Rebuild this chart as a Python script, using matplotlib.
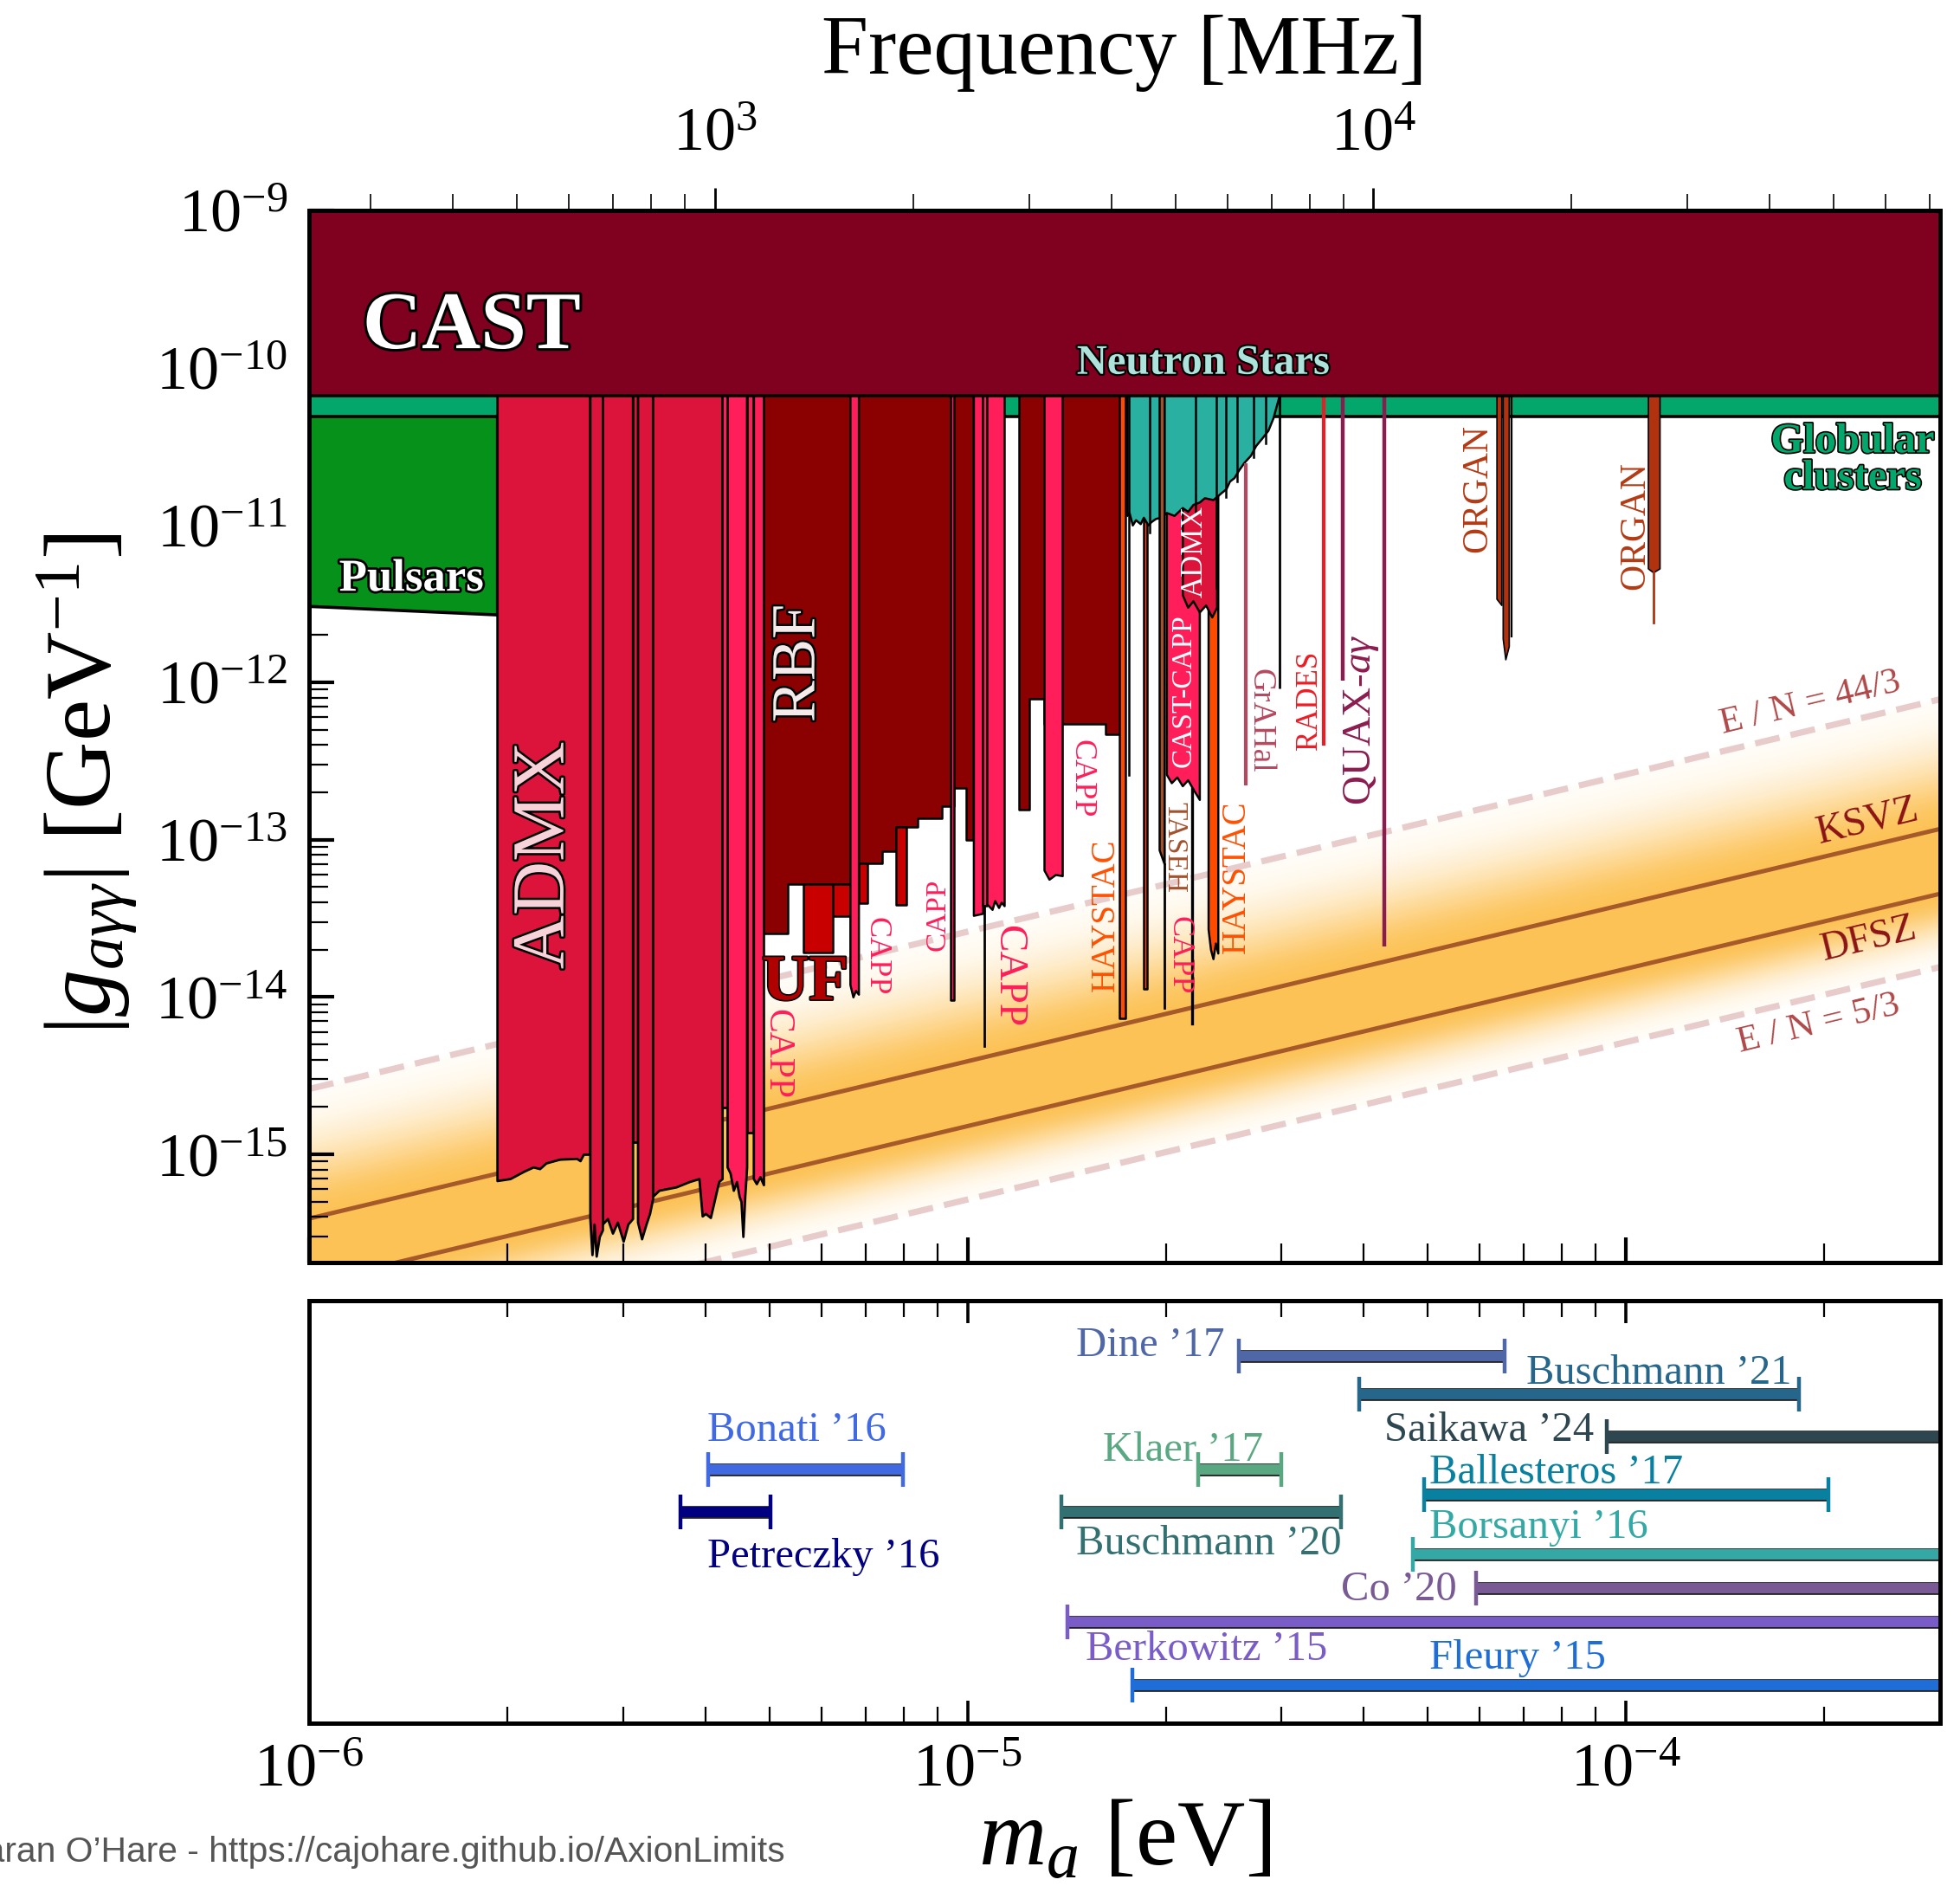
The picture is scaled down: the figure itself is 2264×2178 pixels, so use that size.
import numpy as np
import matplotlib
matplotlib.use("Agg")
import matplotlib.pyplot as plt
import matplotlib.patheffects as pe
from matplotlib.ticker import LogLocator, NullFormatter, FixedLocator

plt.rcParams['font.family'] = ['Liberation Serif', 'DejaVu Serif']
plt.rcParams['mathtext.fontset'] = 'custom'
plt.rcParams['mathtext.rm'] = 'Liberation Serif'
plt.rcParams['mathtext.it'] = 'Liberation Serif:italic'
plt.rcParams['mathtext.bf'] = 'Liberation Serif:bold'

# ---------------- data (m in eV, g in GeV^-1) ----------------
M_MIN, M_MAX = 1e-6, 3e-4
G_MIN, G_MAX = 2.05e-16, 1e-9
G_TOP = 1e-9

cast_g = 6.6e-11
gc_g = 4.9e-11
pulsar_m = [1e-6, 1.93e-6]
pulsar_g = [3.06e-12, 2.7e-12]

# QCD axion model lines (two end points each)
ksvz_m, ksvz_g = [1e-6, 3e-4], [3.9e-16, 1.17e-13]
dfsz_m, dfsz_g = [1e-6, 3e-4], [1.51e-16, 4.53e-14]
en44_m, en44_g = [1e-6, 3e-4], [2.6e-15, 7.8e-13]
en53_m, en53_g = [1e-6, 3e-4], [5.15e-17, 1.55e-14]

# ADMX (low mass)
admx1_m = [1.93e-6, 2.02e-6, 2.12e-6, 2.19e-6, 2.24e-6, 2.29e-6, 2.40e-6, 2.55e-6, 2.58e-6, 2.61e-6, 2.67e-6]
admx1_g = [6.8e-16, 7.0e-16, 7.8e-16, 8.3e-16, 8.1e-16, 8.8e-16, 9.3e-16, 9.4e-16, 9.1e-16, 1.0e-15, 1.0e-15]
admx2_m = [2.67e-6, 2.69e-6, 2.71e-6, 2.73e-6, 2.76e-6, 2.79e-6]
admx2_g = [3.9e-16, 2.3e-16, 3.6e-16, 2.25e-16, 3.0e-16, 3.3e-16]
admx3_m = [2.79e-6, 2.84e-6, 2.89e-6, 2.94e-6, 3.00e-6, 3.05e-6, 3.10e-6]
admx3_g = [3.6e-16, 3.9e-16, 3.15e-16, 3.7e-16, 2.8e-16, 3.6e-16, 3.9e-16]
admx4_m = [3.10e-6, 3.155e-6]
admx4_g = [1.19e-15, 1.19e-15]
admx5_m = [3.155e-6, 3.20e-6, 3.25e-6, 3.29e-6, 3.325e-6]
admx5_g = [3.7e-16, 2.9e-16, 3.6e-16, 4.2e-16, 5.2e-16]
admx6_m = [3.325e-6, 3.40e-6, 3.61e-6, 3.78e-6, 3.91e-6, 3.955e-6, 4.0e-6, 4.07e-6, 4.14e-6, 4.19e-6, 4.24e-6]
admx6_g = [5.4e-16, 5.9e-16, 6.2e-16, 6.7e-16, 7.0e-16, 4.05e-16, 4.2e-16, 3.96e-16, 5.4e-16, 6.7e-16, 7.0e-16]

# CAPP strips
cappa_m, cappa_g = [4.24e-6, 4.315e-6], [1.97e-15, 1.97e-15]
cappb_m = [4.315e-6, 4.36e-6, 4.41e-6, 4.46e-6, 4.50e-6, 4.53e-6, 4.56e-6, 4.59e-6, 4.62e-6]
cappb_g = [8.3e-16, 7.6e-16, 5.9e-16, 6.7e-16, 5.4e-16, 5.0e-16, 3.0e-16, 5.4e-16, 8.3e-16]
cappc_m, cappc_g = [4.62e-6, 4.73e-6], [1.37e-15, 1.37e-15]
cappd_m, cappd_g = [4.73e-6, 4.78e-6, 4.84e-6, 4.90e-6], [7.0e-16, 6.5e-16, 7.2e-16, 6.4e-16]
cappe_m, cappe_g = [6.63e-6, 6.70e-6, 6.76e-6, 6.83e-6], [1.2e-14, 1.0e-14, 1.1e-14, 1.04e-14]
cappf_m, cappf_g = [9.43e-6, 9.53e-6], [9.6e-15, 9.6e-15]
cappg_m, cappg_g = [1.021e-5, 1.055e-5], [3.3e-14, 3.4e-14]
capph_m, capph_g = [1.055e-5, 1.07e-5], [3.8e-14, 3.8e-14]
cappi_m = [1.07e-5, 1.09e-5, 1.10e-5, 1.115e-5, 1.125e-5, 1.137e-5]
cappi_g = [3.9e-14, 3.6e-14, 4.1e-14, 3.7e-14, 4.0e-14, 3.8e-14]
cappj_m = [1.307e-5, 1.33e-5, 1.36e-5, 1.393e-5]
cappj_g = [6.4e-14, 5.6e-14, 6.0e-14, 5.9e-14]
capp_spike_m, capp_spike_g = 1.062e-5, 4.9e-15

# RBF (stepped)
rbf1_edges = [4.90e-6, 5.34e-6, 6.63e-6, 7.43e-6, 7.80e-6, 8.39e-6, 9.15e-6, 9.53e-6, 9.95e-6, 1.021e-5]
rbf1_bot = [2.54e-14, 5.24e-14, 7.03e-14, 8.39e-14, 1.20e-13, 1.37e-13, 1.63e-13, 2.13e-13, 1.0e-13]
rbf2_edges = [1.198e-5, 1.241e-5, 1.307e-5, 1.393e-5, 1.618e-5, 1.705e-5]
rbf2_bot = [1.56e-13, 7.86e-13, 5.41e-13, 5.41e-13, 4.65e-13]

# UF rectangles: m0, m1, g_top, g_bottom
uf_m0 = [5.63e-6, 6.24e-6, 6.83e-6, 7.80e-6]
uf_m1 = [6.24e-6, 6.63e-6, 7.05e-6, 8.07e-6]
uf_gt = [5.24e-14, 5.24e-14, 7.03e-14, 1.20e-13]
uf_gb = [1.91e-14, 3.25e-14, 3.94e-14, 3.84e-14]

# HAYSTAC / TASEH / CAST-CAPP / ADMX (high mass)
hay1_m, hay1_g = [1.703e-5, 1.736e-5], [7.3e-15, 7.3e-15]
hay2_m, hay2_g = [1.85e-5, 1.873e-5], [1.13e-14, 1.13e-14]
hay3_m = [2.32e-5, 2.34e-5, 2.36e-5, 2.38e-5, 2.40e-5]
hay3_g = [2.7e-14, 2.0e-14, 1.75e-14, 2.2e-14, 1.9e-14]
taseh_m, taseh_g = [1.955e-5, 1.99e-5], [8.6e-14, 7.0e-14]
taseh_spike_m, taseh_spike_g = 1.99e-5, 8.5e-15
castcapp_m = [2.005e-5, 2.04e-5, 2.08e-5, 2.12e-5, 2.16e-5, 2.20e-5, 2.25e-5]
castcapp_g = [2.6e-13, 2.3e-13, 2.5e-13, 2.2e-13, 2.4e-13, 2.1e-13, 1.8e-13]
castcapp_spike_m, castcapp_spike_g = 2.196e-5, 6.8e-15
admxh_m = [2.12e-5, 2.16e-5, 2.20e-5, 2.25e-5, 2.30e-5, 2.35e-5, 2.39e-5]
admxh_g = [3.6e-12, 3.0e-12, 3.3e-12, 2.8e-12, 3.1e-12, 2.6e-12, 3.0e-12]

# Neutron stars (radio) lower edge
ns_m = [1.747e-5, 1.76e-5, 1.78e-5, 1.80e-5, 1.83e-5, 1.85e-5, 1.88e-5, 1.90e-5, 1.93e-5, 1.965e-5,
        2.005e-5, 2.06e-5, 2.12e-5, 2.16e-5, 2.20e-5, 2.25e-5, 2.29e-5, 2.36e-5, 2.43e-5, 2.47e-5,
        2.50e-5, 2.54e-5, 2.58e-5, 2.63e-5, 2.69e-5, 2.74e-5, 2.80e-5, 2.86e-5, 2.91e-5, 2.97e-5]
ns_g = [1.15e-11, 1.2e-11, 1.0e-11, 1.08e-11, 1.02e-11, 1.12e-11, 1.0e-11, 1.05e-11, 1.1e-11, 1.12e-11,
        1.2e-11, 1.15e-11, 1.29e-11, 1.22e-11, 1.35e-11, 1.4e-11, 1.49e-11, 1.45e-11, 1.61e-11, 1.7e-11,
        1.9e-11, 2.0e-11, 2.23e-11, 2.5e-11, 2.77e-11, 3.2e-11, 3.57e-11, 4.0e-11, 4.78e-11, 6.5e-11]
# black spikes inside the neutron star region: mass, g_bottom
ns_spike_m = [1.758e-5, 1.89e-5, 2.22e-5, 2.39e-5, 2.47e-5, 2.57e-5, 2.72e-5, 2.84e-5]
ns_spike_g = [2.56e-13, 9.0e-12, 1.2e-11, 4.0e-12, 1.5e-11, 1.9e-11, 2.7e-11, 3.3e-11]

# narrow line limits: mass, g_top, g_bottom
grahal = (2.65e-5, 2.48e-11, 2.22e-13)
blackline = (2.98e-5, G_TOP, 9.1e-13)
rades = (3.48e-5, G_TOP, 3.96e-13)
quax = (3.71e-5, G_TOP, 1.02e-12)
quax_ag = (4.30e-5, G_TOP, 2.1e-14)

# ORGAN
organ1a_m, organ1a_g = [6.36e-5, 6.47e-5], [3.4e-12, 3.1e-12]
organ1b_m, organ1b_g = [6.50e-5, 6.56e-5, 6.64e-5], [1.9e-12, 1.4e-12, 1.7e-12]
organ1c = (6.71e-5, G_TOP, 1.96e-12)
organ2_m, organ2_g = [1.08e-4, 1.10e-4, 1.125e-4], [5.3e-12, 5.0e-12, 5.3e-12]
organ2_line = (1.10e-4, 5.0e-12, 2.4e-12)

# Cosmology predictions (lower panel)
cosmo_names = ["Dine \u201917", "Buschmann \u201921", "Saikawa \u201924", "Bonati \u201916",
               "Klaer \u201917", "Ballesteros \u201917", "Petreczky \u201916", "Buschmann \u201920",
               "Borsanyi \u201916", "Co \u201920", "Berkowitz \u201915", "Fleury \u201915"]
cosmo_lo = [2.58e-5, 3.94e-5, 9.35e-5, 4.04e-6, 2.24e-5, 4.93e-5, 3.67e-6, 1.39e-5, 4.75e-5, 5.92e-5, 1.42e-5, 1.78e-5]
cosmo_hi = [6.55e-5, 1.83e-4, 1e-3, 7.98e-6, 3.0e-5, 2.03e-4, 5.02e-6, 3.69e-5, 1e-3, 1e-3, 1e-3, 1e-3]
cosmo_cols = ["#4f67a6", "#26668a", "#2e4650", "#4169e1", "#5aa882", "#0a80a0",
              "#000080", "#327072", "#33a8a4", "#7a5a94", "#7a5cc8", "#1f6ed8"]
# layout of the lower panel
cosmo_row = [0.869, 0.779, 0.678, 0.600, 0.600, 0.540, 0.500, 0.500, 0.400, 0.319, 0.239, 0.090]
cosmo_lab = [(2.46e-5, 0.869, 'right'), (7.06e-5, 0.803, 'left'), (8.93e-5, 0.668, 'right'),
             (4.02e-6, 0.668, 'left'), (1.605e-5, 0.621, 'left'), (5.03e-5, 0.568, 'left'),
             (4.02e-6, 0.369, 'left'), (1.46e-5, 0.400, 'left'), (5.03e-5, 0.439, 'left'),
             (5.54e-5, 0.291, 'right'), (1.51e-5, 0.150, 'left'), (5.03e-5, 0.129, 'left')]

# frequency axis ticks [MHz]
freq_major = [1e3, 1e4]
freq_minor = [300, 400, 500, 600, 700, 800, 900, 2000, 3000, 4000, 5000, 6000, 7000, 8000, 9000,
              20000, 30000, 40000, 50000, 60000, 70000]

# ---------------- colours ----------------
C_CAST = "#800020"; C_GC = "#03a66b"; C_PUL = "#06921a"
C_ADMX = "#dc143c"; C_CAPP = "#ff1e5a"; C_RBF = "#8b0000"; C_UF = "#c80000"
C_HAY = "#ff4b00"; C_TASEH = "#a0522d"; C_NS = "#2ab0a0"; C_ORGAN = "#b0320e"
C_BAND = np.array([252, 194, 86]) / 255.0

# ---------------- figure ----------------
fig = plt.figure(figsize=(11.32, 10.89), dpi=200)
ax = fig.add_axes([357/2264, 1-1458/2178, 1884/2264, 1215/2178])
ax2 = fig.add_axes([357/2264, 1-1990/2178, 1884/2264, 488/2178])

ax.set_xscale('log'); ax.set_yscale('log')
ax.set_xlim(M_MIN, M_MAX); ax.set_ylim(G_MIN, G_MAX)

def stroke(w=2.0, c='k'):
    return [pe.withStroke(linewidth=w, foreground=c)]

def region(m, g, color, z, lw=0.9):
    ax.fill_between(m, g, G_TOP, facecolor=color, edgecolor='k', linewidth=lw, zorder=z)

def step_xy(edges, bottoms):
    e = np.asarray(edges); b = np.asarray(bottoms)
    return np.repeat(e, 2)[1:-1], np.repeat(b, 2)

# QCD band gradient
lm = np.array(ksvz_m)
rK = ksvz_g[0] / ksvz_m[0]; rD = dfsz_g[0] / dfsz_m[0]
rH = en44_g[0] / en44_m[0]; rL = en53_g[0] / en53_m[0]
def band_col(I):
    return tuple(1 - I * (1 - C_BAND))
ax.fill_between(lm, rD * lm, rK * lm, facecolor=band_col(1.0), edgecolor=band_col(1.0), lw=0.5, zorder=0.5)
N = 60
for lo_r, hi_r in [(rK, rH), (rD, rL)]:
    a0, a1 = np.log10(lo_r), np.log10(hi_r)
    for i in range(N):
        s0, s1 = i / N, (i + 1) / N
        sm = 0.5 * (s0 + s1)
        I = np.exp(-(sm / 0.55) ** 2)
        t0 = 10 ** (a0 + s0 * (a1 - a0)); t1 = 10 ** (a0 + s1 * (a1 - a0))
        c = band_col(I)
        ax.fill_between(lm, t0 * lm, t1 * lm, facecolor=c, edgecolor=c, lw=0.5, zorder=0.5)

ax.plot(ksvz_m, ksvz_g, color="#a65a2a", lw=1.8, zorder=1)
ax.plot(dfsz_m, dfsz_g, color="#a65a2a", lw=1.8, zorder=1)
ax.plot(en44_m, en44_g, color="#e8cccc", lw=2.6, dashes=(4, 1.8), zorder=1)
ax.plot(en53_m, en53_g, color="#e8cccc", lw=2.6, dashes=(4, 1.8), zorder=1)

# astrophysics
ax.fill_between(pulsar_m, pulsar_g, G_TOP, facecolor=C_PUL, edgecolor='k', lw=1.3, zorder=2)
ax.fill_between([M_MIN, M_MAX], [gc_g, gc_g], G_TOP, facecolor=C_GC, edgecolor='k', lw=1.3, zorder=2.5)

# ADMX low mass
for mm, gg in [(admx1_m, admx1_g), (admx2_m, admx2_g), (admx3_m, admx3_g),
               (admx4_m, admx4_g), (admx5_m, admx5_g), (admx6_m, admx6_g)]:
    region(mm, gg, C_ADMX, 3, lw=1.0)
# CAPP low mass
for mm, gg in [(cappa_m, cappa_g), (cappb_m, cappb_g), (cappc_m, cappc_g), (cappd_m, cappd_g)]:
    region(mm, gg, C_CAPP, 3.1, lw=1.0)
# RBF
x, y = step_xy(rbf1_edges, rbf1_bot); region(x, y, C_RBF, 3)
x, y = step_xy(rbf2_edges, rbf2_bot); region(x, y, C_RBF, 3)
# UF
for m0, m1, gt, gb in zip(uf_m0, uf_m1, uf_gt, uf_gb):
    ax.fill_between([m0, m1], [gb, gb], [gt, gt], facecolor=C_UF, edgecolor='k', lw=0.9, zorder=3.2)
# CAPP strips
for mm, gg in [(cappe_m, cappe_g), (cappf_m, cappf_g), (cappg_m, cappg_g), (capph_m, capph_g),
               (cappi_m, cappi_g), (cappj_m, cappj_g)]:
    region(mm, gg, C_CAPP, 3.3)
ax.plot([capp_spike_m] * 2, [capph_g[0], capp_spike_g], color='k', lw=1.0, zorder=3.3)

# high-mass haloscopes below neutron-star region
region(hay2_m, hay2_g, C_HAY, 3.4)
region(hay3_m, hay3_g, C_HAY, 3.4)
region(castcapp_m, castcapp_g, C_CAPP, 3.5)
ax.plot([castcapp_spike_m] * 2, [castcapp_g[5], castcapp_spike_g], color='k', lw=1.2, zorder=3.5)
region(admxh_m, admxh_g, C_ADMX, 3.6)
# neutron stars
region(ns_m, ns_g, C_NS, 4)
for mm, gb in zip(ns_spike_m, ns_spike_g):
    ax.plot([mm, mm], [G_TOP, gb], color='k', lw=0.9, zorder=4.05)
# on top of neutron stars
region(hay1_m, hay1_g, C_HAY, 4.5)
region(taseh_m, taseh_g, C_TASEH, 4.5)
ax.plot([taseh_spike_m] * 2, [taseh_g[1], taseh_spike_g], color='k', lw=1.0, zorder=4.5)

# narrow lines
for (mm, gt, gb), col, lw in [(grahal, "#b5485f", 1.5), (blackline, 'k', 1.0), (rades, "#ed1c24", 1.5),
                              (quax, "#8b1c4f", 1.6), (quax_ag, "#8b1c4f", 1.6)]:
    ax.plot([mm, mm], [gt, gb], color=col, lw=lw, zorder=4.6, solid_capstyle='butt')

# ORGAN
region(organ1a_m, organ1a_g, C_ORGAN, 4.6, lw=0.6)
region(organ1b_m, organ1b_g, C_ORGAN, 4.6, lw=0.6)
ax.plot([organ1c[0]] * 2, [organ1c[1], organ1c[2]], color='k', lw=0.8, zorder=4.6)
region(organ2_m, organ2_g, C_ORGAN, 4.6, lw=0.6)
ax.plot([organ2_line[0]] * 2, [organ2_line[1], organ2_line[2]], color=C_ORGAN, lw=1.0, zorder=4.6)

# CAST
ax.fill_between([M_MIN, M_MAX], [cast_g, cast_g], G_TOP, facecolor=C_CAST, edgecolor='k', lw=1.3, zorder=10)

# ---------------- labels ----------------
T = dict(zorder=20)
ax.text(1.206e-6, 1.77e-10, "CAST", fontsize=34, fontweight='bold', color='w', ha='left', va='center',
        path_effects=stroke(2.2), **T)
ax.text(2.28e-5, 1.065e-10, "Neutron Stars", fontsize=17.5, fontweight='bold', color="#aee3dc",
        ha='center', va='center', path_effects=stroke(1.6), **T)
ax.text(1.43e-6, 4.51e-12, "Pulsars", fontsize=19, fontweight='bold', color='w', ha='center', va='center',
        path_effects=stroke(2.0), **T)
ax.text(2.21e-4, 2.58e-11, "Globular\nclusters", fontsize=17.5, fontweight='bold', color=C_GC,
        ha='center', va='center', linespacing=0.95, path_effects=stroke(1.2), **T)
ax.text(2.285e-6, 7.96e-14, "ADMX", fontsize=31, color="#f7d3d9", rotation=90, ha='center', va='center',
        path_effects=stroke(1.8), **T)
ax.text(5.55e-6, 1.32e-12, "RBF", fontsize=26, color="#f5eaea", rotation=90, ha='center', va='center',
        path_effects=stroke(1.8), **T)
ax.text(5.67e-6, 1.21e-14, "UF", fontsize=27, fontweight='bold', color="#b00000", ha='center', va='center',
        path_effects=stroke(1.2), **T)

small = [
    ("CAPP", 5.14e-6, 4.34e-15, -90, 15, C_CAPP),
    ("CAPP", 7.26e-6, 1.81e-14, -90, 13, C_CAPP),
    ("CAPP", 9.01e-6, 3.33e-14, 90, 12, C_CAPP),
    ("CAPP", 1.154e-5, 1.355e-14, -90, 17, C_CAPP),
    ("CAPP", 1.489e-5, 2.45e-13, -90, 13, C_CAPP),
    ("CAPP", 2.096e-5, 1.84e-14, -90, 13, C_CAPP),
    ("HAYSTAC", 1.62e-5, 3.33e-14, 90, 14, "#ff5000"),
    ("HAYSTAC", 2.56e-5, 5.81e-14, 90, 14, "#ff5000"),
    ("TASEH", 2.064e-5, 8.93e-14, -90, 12, C_TASEH),
    ("CAST-CAPP", 2.128e-5, 8.81e-13, 90, 12, 'w'),
    ("ADMX", 2.213e-5, 6.76e-12, 90, 12.5, 'w'),
    ("GrAHal", 2.786e-5, 5.73e-13, -90, 13.5, "#b5485f"),
    ("RADES", 3.31e-5, 7.67e-13, 90, 12.5, "#ed1c24"),
    (r"QUAX-$a\gamma$", 3.96e-5, 5.81e-13, 90, 17, "#8b1c4f"),
    ("ORGAN", 5.95e-5, 1.70e-11, 90, 15, "#b33a14"),
    ("ORGAN", 1.033e-4, 9.89e-12, 90, 15, "#b33a14"),
]
for s, mx, gy, rot, fs, col in small:
    ax.text(mx, gy, s, rotation=rot, fontsize=fs, color=col, ha='center', va='center', **T)

rot_band = 13.5
ax.text(2.326e-4, 1.30e-13, "KSVZ", rotation=rot_band, fontsize=16.5, color="#8b1414", ha='center', va='center', **T)
ax.text(2.34e-4, 2.33e-14, "DFSZ", rotation=rot_band, fontsize=16.5, color="#8b1414", ha='center', va='center', **T)
ax.text(1.905e-4, 7.38e-13, "E / N = 44/3", rotation=rot_band, fontsize=15.5, color="#b04848", ha='center', va='center', **T)
ax.text(1.963e-4, 6.76e-15, "E / N = 5/3", rotation=rot_band, fontsize=15.5, color="#b04848", ha='center', va='center', **T)

# ---------------- axes styling ----------------
for a in (ax, ax2):
    for sp in a.spines.values():
        sp.set_linewidth(1.8)
        sp.set_zorder(30)

ax.yaxis.set_major_locator(LogLocator(base=10, numticks=30))
ax.yaxis.set_minor_locator(LogLocator(base=10, subs=np.arange(2, 10), numticks=100))
ax.yaxis.set_minor_formatter(NullFormatter())
ax.xaxis.set_major_locator(LogLocator(base=10, numticks=30))
ax.xaxis.set_minor_locator(LogLocator(base=10, subs=np.arange(2, 10), numticks=100))
ax.tick_params(which='both', direction='in', left=True, right=False, top=False, bottom=True,
               labelbottom=False, labelsize=26, zorder=31)
ax.tick_params(which='major', length=10.5, width=1.5, pad=9)
ax.tick_params(which='minor', length=8, width=0.8)

# frequency axis
def m2f(m):
    return np.asarray(m) * 2.418e8
def f2m(f):
    return np.asarray(f) / 2.418e8
sec = ax.secondary_xaxis('top', functions=(m2f, f2m))
sec.xaxis.set_major_locator(FixedLocator(freq_major))
sec.xaxis.set_minor_locator(FixedLocator(freq_minor))
sec.xaxis.set_minor_formatter(NullFormatter())
sec.tick_params(which='both', direction='out', labelsize=26)
sec.tick_params(which='major', length=9.5, width=1.0, pad=10)
sec.tick_params(which='minor', length=7, width=0.6)
sec.spines['top'].set_linewidth(1.8)

# lower panel
ax2.set_xscale('log'); ax2.set_xlim(M_MIN, M_MAX); ax2.set_ylim(0, 1)
ax2.set_yticks([])
ax2.xaxis.set_major_locator(LogLocator(base=10, numticks=30))
ax2.xaxis.set_minor_locator(LogLocator(base=10, subs=np.arange(2, 10), numticks=100))
ax2.xaxis.set_minor_formatter(NullFormatter())
ax2.tick_params(which='both', direction='in', top=True, bottom=True, labelsize=26)
ax2.tick_params(which='major', length=9.5, width=1.3, pad=8)
ax2.tick_params(which='minor', length=7, width=0.8)

for name, lo, hi, col, yr, (lx, ly, lha) in zip(cosmo_names, cosmo_lo, cosmo_hi, cosmo_cols, cosmo_row, cosmo_lab):
    ax2.plot([lo, hi], [yr, yr], color=col, lw=4.3, solid_capstyle='butt', zorder=3,
             path_effects=[pe.Stroke(linewidth=5.3, foreground='#222222'), pe.Normal()])
    ax2.plot([lo, hi], [yr, yr], ls='none', marker='|', ms=14.5, mew=1.6, color=col, zorder=4)
    ax2.text(lx, ly, name, color=col, fontsize=17.5, ha=lha, va='baseline', zorder=5)

# axis titles
fig.text(1299/2264, 1-61/2178, "Frequency [MHz]", ha='center', va='center', fontsize=35)
fig.text(1299/2264, 1-2128/2178, r"$m_a$ [eV]", ha='center', va='center', fontsize=39)
fig.text(101/2264, 1-905/2178, r"$|g_{a\gamma\gamma}|$ [GeV$^{-1}$]", ha='center', va='center',
         rotation=90, fontsize=39)
fig.text(907/2264, 1-2139/2178, "Ciaran O\u2019Hare - https://cajohare.github.io/AxionLimits",
         ha='right', va='center', fontsize=14.7, color='#555555', family=['Liberation Sans', 'DejaVu Sans'])

fig.savefig("out.png", dpi=200)
